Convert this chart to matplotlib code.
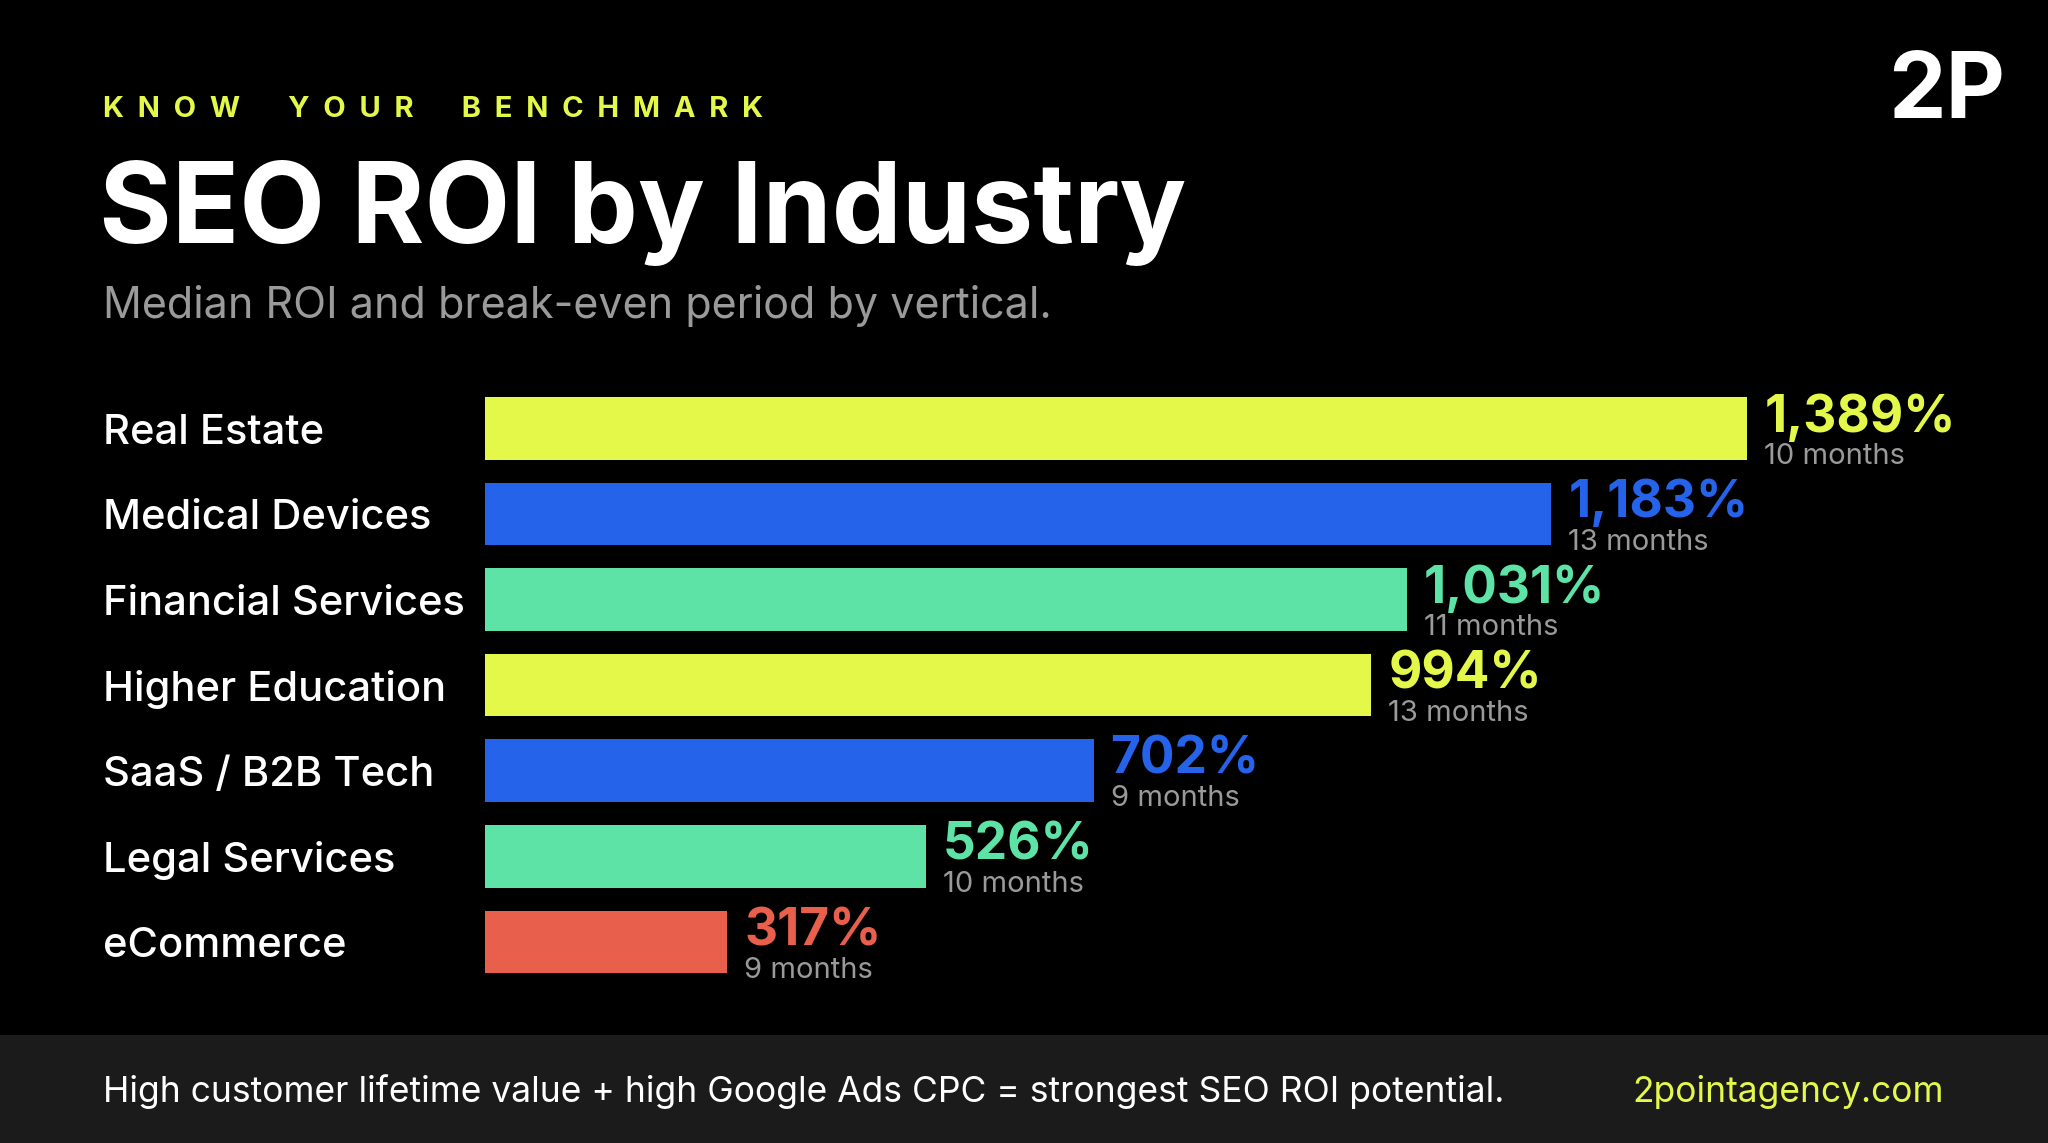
import matplotlib.pyplot as plt
from matplotlib.patches import Rectangle
import matplotlib.transforms as mtransforms

plt.rcParams['font.family'] = ['Inter', 'DejaVu Sans']

industries = ["Real Estate", "Medical Devices", "Financial Services", "Higher Education",
              "SaaS / B2B Tech", "Legal Services", "eCommerce"]
roi = [1389, 1183, 1031, 994, 702, 526, 317]
months = [10, 13, 11, 13, 9, 10, 9]
colors = ["#E4F84A", "#2563EB", "#5DE3A6", "#E4F84A", "#2563EB", "#5DE3A6", "#E8604C"]

BG = "#000000"
fig = plt.figure(figsize=(20.48, 11.43), dpi=100, facecolor=BG)

# footer band
fig.patches.append(Rectangle((0, 0), 1, 1 - 792 / 875, transform=fig.transFigure,
                             facecolor="#1b1b1b", edgecolor="none", zorder=0))

ax = fig.add_axes([371 / 1568, 1 - 745 / 875, 1 - 371 / 1568, (745 - 304) / 875])
ax.set_facecolor("none")
ypos = list(range(len(industries)))
ax.barh(ypos, roi, height=0.732, color=colors)
ax.set_xlim(62, 1705)
ax.set_ylim(len(industries) - 1 + 0.366, -0.366)
ax.axis("off")

off = mtransforms.offset_copy(ax.transData, fig=fig, x=17, y=0, units="dots")
for y, v, m, c in zip(ypos, roi, months, colors):
    ax.text(v, y - 0.12, f"{v:,}%", transform=off, color=c, fontsize=37,
            fontweight="bold", va="center", ha="left")
    ax.text(v, y + 0.33, f"{m} months", transform=off, color="#9a9a9a", fontsize=21,
            va="center", ha="left")

lab = mtransforms.blended_transform_factory(fig.transFigure, ax.transData)
for y, name in zip(ypos, industries):
    ax.text(79 / 1568, y + 0.05, name, transform=lab, color="white", fontsize=30,
            fontweight="medium", va="center", ha="left")

fig.text(79 / 1568, 1 - 84 / 875, "  ".join("KNOW YOUR BENCHMARK").replace("    ", "      "),
         color="#E4F84A", fontsize=21, fontweight="bold", va="center")
fig.text(76 / 1568, 1 - 163 / 875, "SEO ROI by Industry", color="white", fontsize=80,
         fontweight="bold", va="center")
fig.text(79 / 1568, 1 - 234 / 875, "Median ROI and break-even period by vertical.",
         color="#9a9a9a", fontsize=31, va="center")
fig.text(1535 / 1568, 1 - 72 / 875, "2P", color="white", fontsize=66,
         fontweight="bold", va="center", ha="right")

fig.text(79 / 1568, 1 - 836 / 875,
         "High customer lifetime value + high Google Ads CPC = strongest SEO ROI potential.",
         color="white", fontsize=25.5, va="center")
fig.text(1488 / 1568, 1 - 836 / 875, "2pointagency.com", color="#E4F84A",
         fontsize=25.5, va="center", ha="right")

fig.savefig("out.png", dpi=100, facecolor=BG)
